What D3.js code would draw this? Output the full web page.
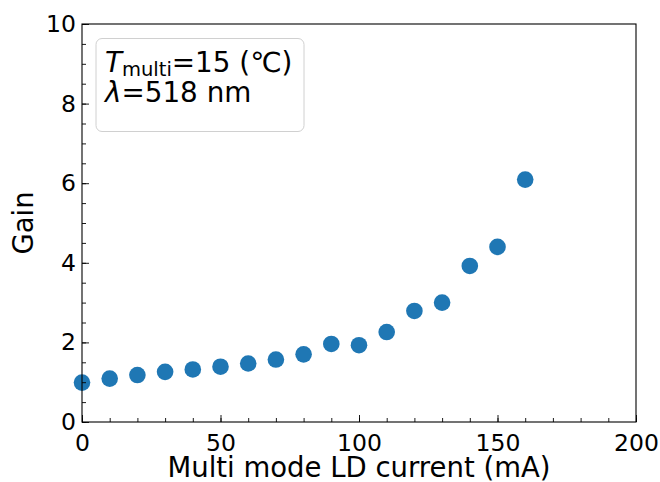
<!DOCTYPE html>
<html><head><meta charset="utf-8">
<script src="https://cdn.jsdelivr.net/npm/d3@7"></script>
<style>
body{margin:0;background:#fff;}
text{font-family:"DejaVu Sans",sans-serif;fill:#000;}
</style></head>
<body><svg id="c" width="660" height="482"></svg>
<script>
const current = [0,10,20,30,40,50,60,70,80,90,100,110,120,130,140,150,160];
const gain = [0.99,1.09,1.18,1.26,1.32,1.39,1.47,1.57,1.70,1.96,1.93,2.26,2.79,3.00,3.92,4.40,6.09];
const xTicks = [0,50,100,150,200];
const yTicks = [0,2,4,6,8,10];

const svg = d3.select("#c");
const L=82, R=636, T=24, B=422;
const x = d3.scaleLinear().domain([0,200]).range([L,R]);
const y = d3.scaleLinear().domain([0,10]).range([B,T]);

// points
svg.append("g").selectAll("circle").data(current).enter().append("circle")
  .attr("cx",(d)=>x(d)).attr("cy",(d,i)=>y(gain[i])).attr("r",8.3).attr("fill","#1f77b4");

// frame
svg.append("rect").attr("x",L).attr("y",T).attr("width",R-L).attr("height",B-T)
  .attr("fill","none").attr("stroke","#000").attr("stroke-width",1.1);

// x axis
const xa = svg.append("g").attr("transform",`translate(0,${B})`);
xa.call(d3.axisBottom(x).tickValues(d3.range(0,201,10)).tickSize(-4).tickFormat(""))
  .call(g=>g.select(".domain").remove());
xa.append("g").call(d3.axisBottom(x).tickValues(xTicks).tickSize(-7).tickPadding(12).tickFormat(d3.format("d")))
  .call(g=>g.select(".domain").remove());
xa.selectAll("line").attr("stroke","#000").attr("stroke-width",0.9);
xa.selectAll("text").attr("font-size",23.5).attr("font-family","DejaVu Sans").attr("fill","#000");

// y axis
const ya = svg.append("g").attr("transform",`translate(${L},0)`);
ya.call(d3.axisLeft(y).tickValues(d3.range(0,10.01,0.5)).tickSize(-4).tickFormat(""))
  .call(g=>g.select(".domain").remove());
ya.append("g").call(d3.axisLeft(y).tickValues(yTicks).tickSize(-7).tickPadding(6).tickFormat(d3.format("d")))
  .call(g=>g.select(".domain").remove());
ya.selectAll("line").attr("stroke","#000").attr("stroke-width",0.9);
ya.selectAll("text").attr("font-size",23.5).attr("font-family","DejaVu Sans").attr("fill","#000");

// axis labels
svg.append("text").attr("x",(L+R)/2).attr("y",477).attr("text-anchor","middle")
  .attr("font-size",27.5).text("Multi mode LD current (mA)");
svg.append("text").attr("transform",`translate(33,${(T+B)/2}) rotate(-90)`).attr("text-anchor","middle")
  .attr("font-size",27.5).text("Gain");

// legend box
svg.append("rect").attr("x",96).attr("y",38.5).attr("width",208).attr("height",93).attr("rx",6)
  .attr("fill","#fff").attr("fill-opacity",0.8).attr("stroke","#d0d0d0").attr("stroke-width",1);
const t1 = svg.append("text").attr("x",105).attr("y",72).attr("font-size",27.8);
t1.append("tspan").attr("font-style","italic").text("T");
t1.append("tspan").attr("font-size",19.5).attr("dy",4).text("multi");
t1.append("tspan").attr("dy",-4).text("=15 (℃)");
const t2 = svg.append("text").attr("x",105).attr("y",102).attr("font-size",27.8);
t2.append("tspan").attr("font-style","italic").text("λ");
t2.append("tspan").text("=518 nm");
</script></body></html>
